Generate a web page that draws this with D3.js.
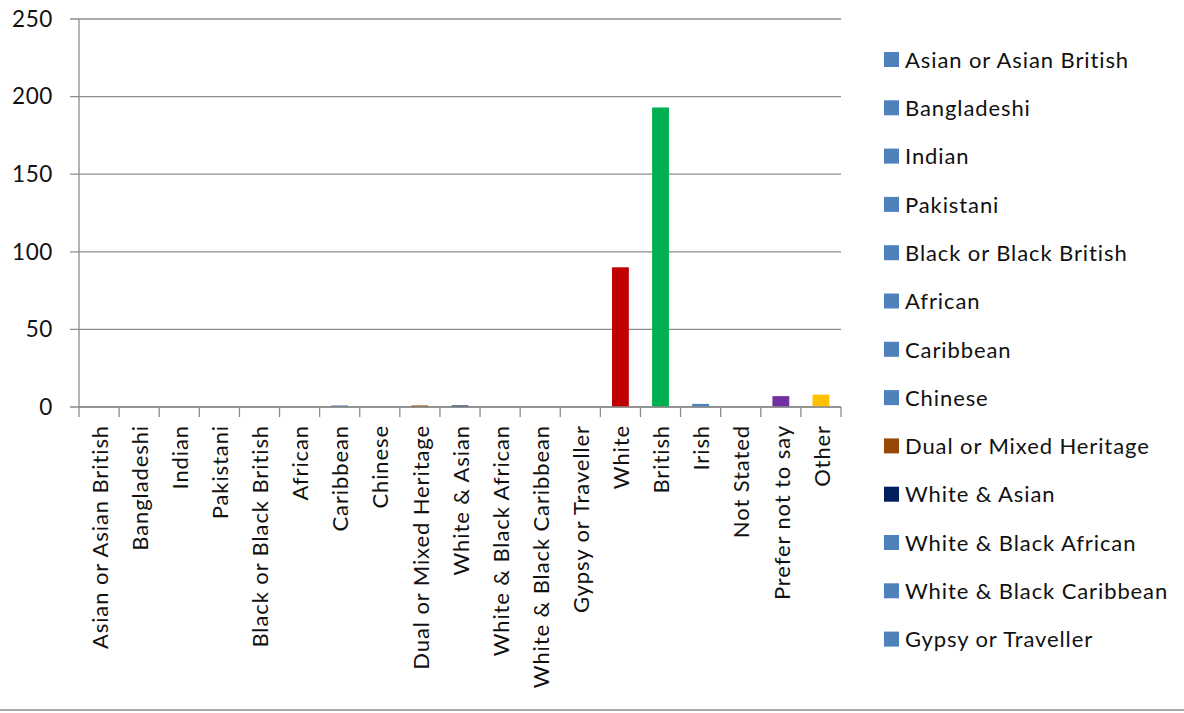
<!DOCTYPE html>
<html><head><meta charset="utf-8">
<script src="https://cdn.jsdelivr.net/npm/d3@7"></script>
<style>
html,body{margin:0;padding:0;background:#fff;}
text{font-family:Lato,"Open Sans",sans-serif;fill:#111;}
</style></head>
<body><svg id="c" width="1184" height="713"></svg>
<script>
const categories = ["Asian or Asian British","Bangladeshi","Indian","Pakistani","Black or Black British","African","Caribbean","Chinese","Dual or Mixed Heritage","White & Asian","White & Black African","White & Black Caribbean","Gypsy or Traveller","White","British","Irish","Not Stated","Prefer not to say","Other"];
const values = [0,0,0,0,0,0,1,0,1,1,0,0,0,90,193,2,0,7,8];
const colors = ["#4F81BD","#4F81BD","#4F81BD","#4F81BD","#4F81BD","#4F81BD","#4F81BD","#4F81BD","#984807","#002060","#4F81BD","#4F81BD","#4F81BD","#C00000","#00B050","#4F81BD","#4F81BD","#7030A0","#FFC000"];
const yTicks = [0,50,100,150,200,250];
const legendCount = 13;

(function(){
const svg = d3.select("#c");
const mLeft = 79, mRight = 841, mTop = 19, mBottom = 407;
const x = d3.scaleBand().domain(categories).range([mLeft, mRight]).paddingInner(0.58).paddingOuter(0.29);
const xb = d3.scaleBand().domain(categories).range([mLeft, mRight]);
const y = d3.scaleLinear().domain([0,250]).range([mBottom, mTop]);

// gridlines
svg.append("g").selectAll("line").data(yTicks).join("line")
  .attr("x1", 70).attr("x2", mRight).attr("y1", d=>y(d)).attr("y2", d=>y(d))
  .attr("stroke", "#8c8c8c").attr("stroke-width", 1.3);
// y axis line
svg.append("line").attr("x1", mLeft).attr("x2", mLeft).attr("y1", mTop).attr("y2", mBottom)
  .attr("stroke", "#8c8c8c").attr("stroke-width", 1.3);
// y labels
svg.append("g").selectAll("text").data(yTicks).join("text")
  .attr("x", 53).attr("y", d=>y(d)).attr("dy", "0.35em").attr("text-anchor","end")
  .style("font-size","22.5px").style("letter-spacing","0.6px").text(d=>d);

// bars
svg.append("g").selectAll("rect").data(categories).join("rect")
  .attr("x", d=>x(d)).attr("width", x.bandwidth())
  .attr("y", (d,i)=>y(values[i])).attr("height", (d,i)=>mBottom - y(values[i]))
  .attr("fill", (d,i)=>colors[i]);

// x axis
const gx = svg.append("g").attr("transform", `translate(0,${mBottom})`);
gx.append("line").attr("x1", mLeft).attr("x2", mRight).attr("stroke","#8c8c8c").attr("stroke-width",1.3);
const tickPos = categories.map(c=>xb(c)).concat([mRight]);
gx.selectAll("line.t").data(tickPos).join("line").attr("class","t")
  .attr("x1", d=>d).attr("x2", d=>d).attr("y1", 0).attr("y2", 10)
  .attr("stroke","#8c8c8c").attr("stroke-width",1.3);
// x labels
svg.append("g").selectAll("text").data(categories).join("text")
  .attr("transform", d=>`translate(${xb(d)+xb.bandwidth()/2+1},425) rotate(-90)`)
  .attr("text-anchor","end").attr("dy","0.35em")
  .style("font-size","22px").style("letter-spacing","0.9px").text(d=>d);

// legend
const lg = svg.append("g");
const legItems = categories.slice(0, legendCount);
legItems.forEach((c,i)=>{
  const cy = 60 + i*48.3;
  lg.append("rect").attr("x",884).attr("y",cy-8).attr("width",15).attr("height",15).attr("fill",colors[i]);
  lg.append("text").attr("x",905).attr("y",cy).attr("dy","0.35em").style("font-size","22px").style("letter-spacing","0.9px").text(c);
});

// bottom border line
svg.append("line").attr("x1",0).attr("x2",1184).attr("y1",710).attr("y2",710).attr("stroke","#8c8c8c").attr("stroke-width",1.5);
})();
</script></body></html>
